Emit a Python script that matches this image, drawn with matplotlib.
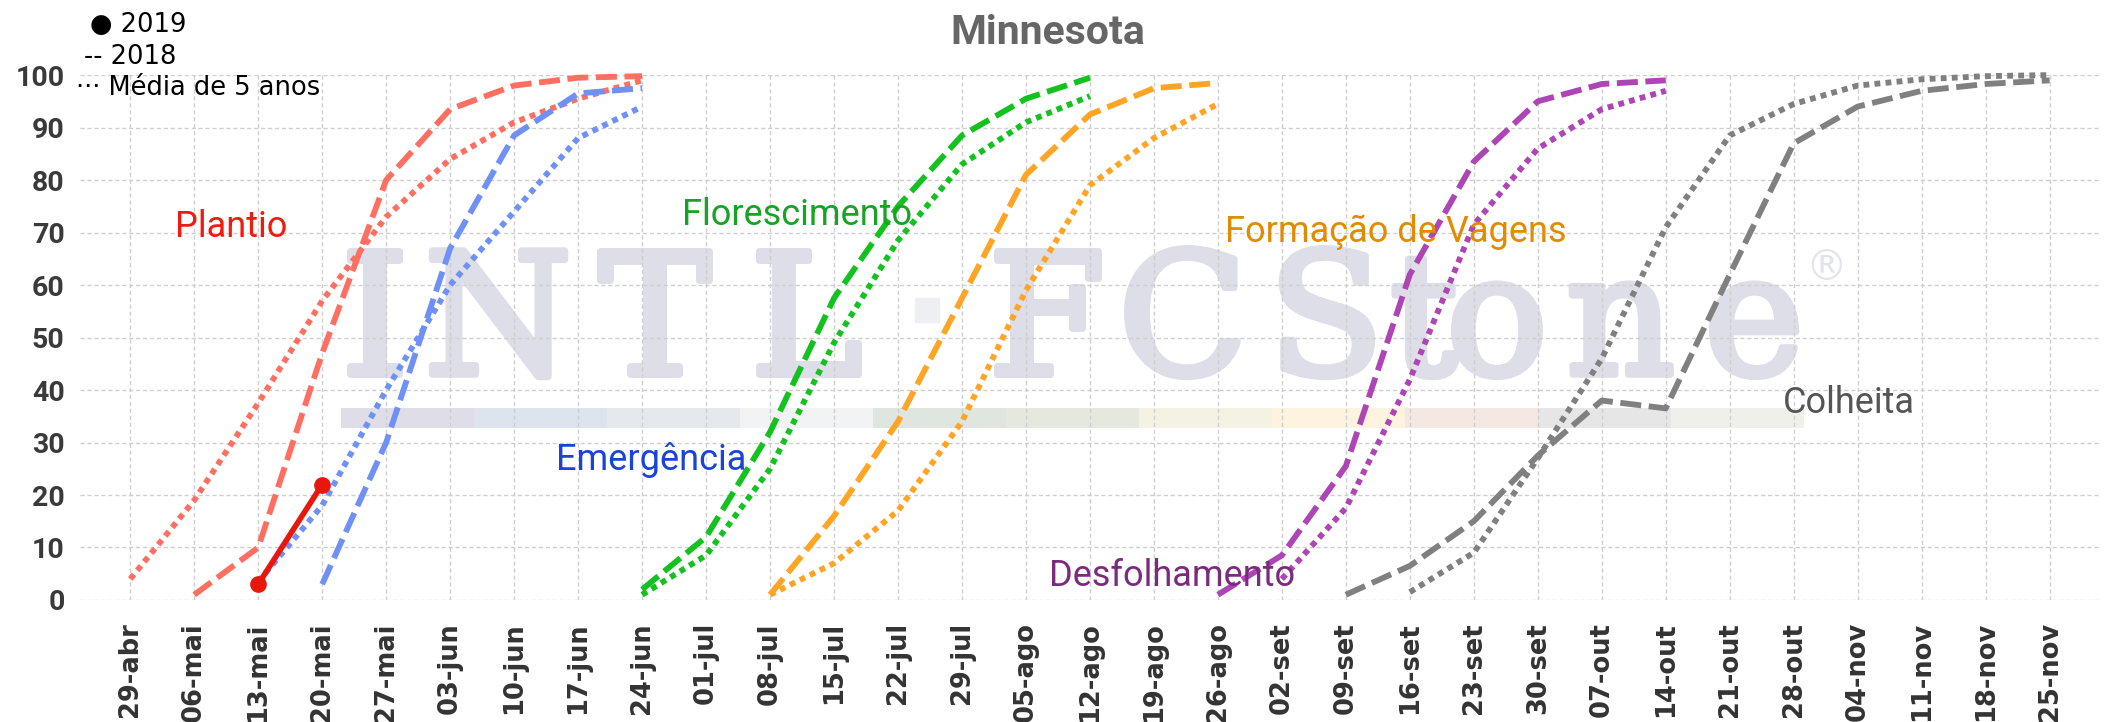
import matplotlib
matplotlib.use("Agg")
import matplotlib.pyplot as plt
import matplotlib.transforms as mtransforms
import matplotlib.patheffects as pe
from matplotlib.patches import Rectangle
import pandas as pd

# semanas do eixo x (segundas-feiras)
weeks = pd.date_range("2019-04-29", "2019-11-25", freq="7D")
MESES = {4: "abr", 5: "mai", 6: "jun", 7: "jul", 8: "ago", 9: "set", 10: "out", 11: "nov"}
tick_labels = [f"{d.day:02d}-{MESES[d.month]}" for d in weeks]

# % concluido; *_ini = indice da primeira semana da serie
plantio_2019_ini, plantio_2019 = 2, [3, 22]
plantio_2018_ini, plantio_2018 = 1, [1, 10, 47, 80, 93.5, 98, 99.5, 99.8]
plantio_media_ini, plantio_media = 0, [4, 19, 37.5, 57, 73, 84, 91, 95.5, 99]

emerg_2018_ini, emerg_2018 = 3, [3, 30, 67, 88.5, 96.5, 97.5]
emerg_media_ini, emerg_media = 2, [3.5, 18, 40, 60, 74, 88, 94]

flor_2018_ini, flor_2018 = 8, [2, 12, 32, 57.5, 75, 88.5, 95.5, 99.5]
flor_media_ini, flor_media = 8, [1, 8.5, 25, 49, 68.5, 83, 91, 96]

vag_2018_ini, vag_2018 = 10, [1, 16, 34, 57.5, 81, 92.5, 97.5, 98.5]
vag_media_ini, vag_media = 10, [1, 7, 17, 34, 59, 79, 88, 94.5]

desf_2018_ini, desf_2018 = 17, [1, 8.5, 25.5, 62, 83.5, 95, 98.3, 99]
desf_media_ini, desf_media = 18, [4, 17.5, 42, 71.5, 86, 93.5, 97]

colh_2018_ini, colh_2018 = 19, [1, 6.5, 15, 27.5, 38, 36.5, 62, 87, 94, 97, 98.3, 99]
colh_media_ini, colh_media = 20, [1.5, 9, 27, 46, 71, 88.5, 94.5, 98, 99.2, 99.8, 100]

# fase: (cor linha, cor texto, texto, data do texto, y do texto)
fases = [
    ("#ff6f61", "#ee1c0e", "Plantio", "2019-05-10", 71,
     (plantio_2018_ini, plantio_2018), (plantio_media_ini, plantio_media)),
    ("#6f91f6", "#1a44d6", "Emergência", "2019-06-25", 26.6,
     (emerg_2018_ini, emerg_2018), (emerg_media_ini, emerg_media)),
    ("#14c21f", "#17a323", "Florescimento", "2019-07-11", 73.3,
     (flor_2018_ini, flor_2018), (flor_media_ini, flor_media)),
    ("#ffa424", "#e08b00", "Formação de Vagens", "2019-09-14 12:00", 70.1,
     (vag_2018_ini, vag_2018), (vag_media_ini, vag_media)),
    ("#ad45b4", "#7b2b7e", "Desfolhamento", "2019-08-21", 4.6,
     (desf_2018_ini, desf_2018), (desf_media_ini, desf_media)),
    ("#808080", "#555555", "Colheita", "2019-11-03", 37.5,
     (colh_2018_ini, colh_2018), (colh_media_ini, colh_media)),
]


def serie(ini, vals):
    return weeks[ini:ini + len(vals)], vals


fig = plt.figure(figsize=(21.05, 7.22), dpi=100)
ax = fig.add_axes([0.038, 0.169, 0.960, 0.727])
ax.set_axisbelow(True)

# marca d'agua (letra a letra, pixels da figura)
wm = "#dddee7"
grosso = [pe.withStroke(linewidth=5, foreground=wm)]
tr = mtransforms.blended_transform_factory(fig.transFigure, ax.transData)
letras = [("I", 341), ("N", 424), ("T", 598), ("L", 750),
          ("F", 988), ("C", 1118), ("S", 1268), ("t", 1390), ("o", 1446),
          ("n", 1566), ("e", 1704)]
for ch, px in letras:
    ax.text(px / 2105, 43.0, ch, transform=tr, family="DejaVu Serif", fontsize=122,
            color=wm, va="baseline", ha="left", zorder=0.2, path_effects=grosso)
ax.text(1826 / 2105, 1 - 268 / 722, "®", transform=fig.transFigure, family="DejaVu Sans",
        fontsize=30, color="#e3e4eb", va="center", ha="center", zorder=0.2)
ax.add_patch(Rectangle((915 / 2105, 1 - 322 / 722), 24 / 2105, 24 / 722,
                       transform=fig.transFigure, color="#eeeff2", zorder=0.2, clip_on=False))
barra = ["#dfdee8", "#dde4ed", "#e5e9ed", "#f1f3f5", "#dfe6df", "#e5e8df",
         "#f4f2e2", "#fdf3df", "#f5e7e2", "#e6e6e6", "#f0f0eb"]
for i, c in enumerate(barra):
    ax.add_patch(Rectangle(((341 + i * 133) / 2105, 32.8), 133 / 2105, 3.8,
                           transform=tr, color=c, zorder=0.2, clip_on=False, lw=0))

dash = (0, (3.6, 1.3))
dot = (0, (1, 0.9))
for cor, cor_txt, nome, xt, yt, s18, smed in fases:
    x, y = serie(*s18)
    ax.plot(x, y, color=cor, lw=4.2, linestyle=dash, dash_capstyle="butt",
            clip_on=False, zorder=3)
    x, y = serie(*smed)
    ax.plot(x, y, color=cor, lw=4.2, linestyle=dot, dash_capstyle="butt",
            clip_on=False, zorder=3)
    ax.text(pd.Timestamp(xt), yt, nome, color=cor_txt, family="Roboto", fontsize=26,
            ha="center", va="center", zorder=4)

x, y = serie(plantio_2019_ini, plantio_2019)
ax.plot(x, y, color="#e8170c", lw=4, marker="o", markersize=11, zorder=5, clip_on=False)

ax.set_xlim(weeks[0] - pd.Timedelta(days=5.5), weeks[-1] + pd.Timedelta(days=5.6))
ax.set_ylim(0, 100)
ax.set_xticks(weeks)
ax.set_xticklabels(tick_labels, rotation=90, family="DejaVu Sans", fontweight="bold",
                   fontsize=18.5, color="#333333")
ax.set_yticks(range(0, 101, 10))
ax.set_yticklabels([str(v) for v in range(0, 101, 10)], family="Roboto",
                   fontweight="bold", fontsize=20.5, color="#3a3a3a")
ax.tick_params(axis="x", length=0, pad=16)
ax.tick_params(axis="y", length=0, pad=11)
ax.grid(True, color="#cfcfcf", linestyle=(0, (3, 2)), linewidth=1)
for sp in ax.spines.values():
    sp.set_visible(False)

fig.text(0.498, 1 - 33 / 722, "Minnesota", family="Roboto", fontweight="bold",
         fontsize=29.5, color="#666666", ha="center", va="center")

# legenda manual no canto
fig.text(90 / 2105, 1 - 32 / 722, "● 2019", fontsize=18.5, va="baseline")
fig.text(84 / 2105, 1 - 64 / 722, "-- 2018", fontsize=18.5, va="baseline")
fig.text(76 / 2105, 1 - 95 / 722, "··· Média de 5 anos", fontsize=18.5, va="baseline")

fig.savefig("out.png", dpi=100)
